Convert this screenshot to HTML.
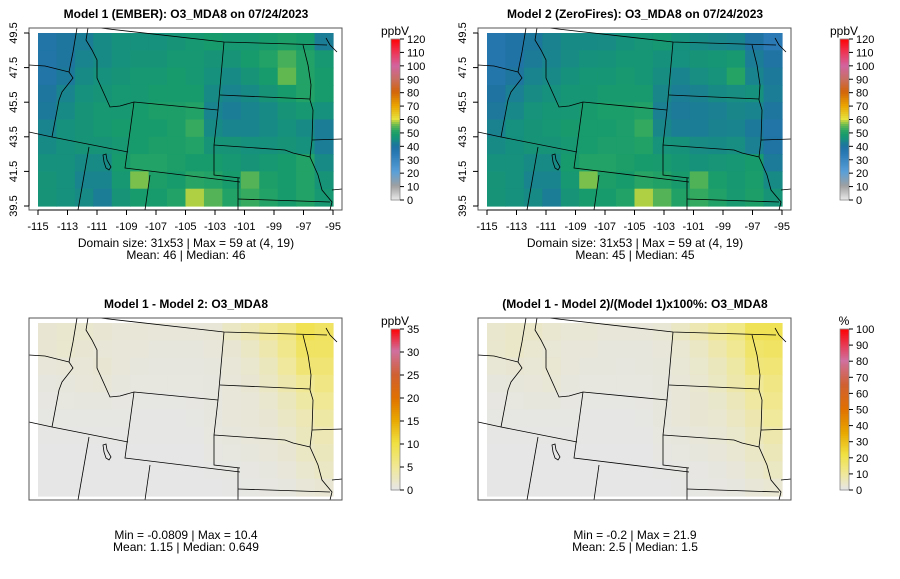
<!DOCTYPE html>
<html><head><meta charset="utf-8">
<style>
body{margin:0;background:#fff;}
svg{display:block;font-family:"Liberation Sans",sans-serif;}
</style></head>
<body>
<svg id="chart" width="900" height="579" viewBox="0 0 900 579"></svg>
<script>
// ---- data (coarse 10 x 16 grids, north->south rows, west->east cols) ----
const lonTicks = [-115,-113,-111,-109,-107,-105,-103,-101,-99,-97,-95];
const latTicks = [39.5,41.5,43.5,45.5,47.5,49.5];
const ppbTicks = [0,10,20,30,40,50,60,70,80,90,100,110,120];
const diffTicks = [0,5,10,15,20,25,30,35];
const pctTicks = [0,10,20,30,40,50,60,70,80,90,100];
const model1 = [
 [38,40,42,44,45,45,45,46,47,48,47,47,48,49,48,42],
 [38,40,43,44,45,46,46,47,47,46,46,48,50,53,50,47],
 [38,41,44,45,46,47,47,48,47,45,44,46,48,55,50,48],
 [40,43,45,46,47,47,48,48,48,44,43,44,46,48,50,48],
 [41,44,46,47,47,48,49,49,50,43,42,43,44,46,47,45],
 [43,45,46,47,48,48,48,49,52,44,43,43,44,45,44,42],
 [44,45,46,46,47,48,49,49,50,46,46,45,45,46,45,42],
 [45,45,44,44,48,50,50,49,48,48,47,46,47,48,50,44],
 [46,45,43,43,47,56,49,48,51,50,48,54,49,48,50,46],
 [46,45,44,42,46,48,48,50,58,54,50,52,50,48,50,47]
];
const diff = [
 [1.2,1.5,1.5,1.2,1,1,0.8,0.8,0.8,1,2,3,4.5,6,9,8],
 [1.2,1.5,1.2,1,0.8,0.8,0.6,0.6,0.6,0.8,1.2,2,3.5,5.5,8,8],
 [0.8,1,1,1.2,0.8,0.6,0.5,0.5,0.5,0.6,1,1.5,2.5,4.5,7,7],
 [0.5,0.6,0.8,1,0.6,0.4,0.4,0.4,0.4,0.5,0.8,1.2,2,3.5,5,6],
 [0.3,0.4,0.5,0.5,0.3,0.2,0.2,0.2,0.3,0.5,0.8,1,1.5,2.5,4,5],
 [0.2,0.2,0.2,0.2,0.2,0.1,0.1,0.1,0.2,0.5,0.8,1,1.2,2,3,4],
 [0.1,0.1,0.1,0.1,0.1,0.1,0.1,0.1,0.1,0.4,0.6,0.8,1,1.5,2.5,3],
 [0,0,0,0,0,0,0,0,0,0.3,0.4,0.6,0.8,1.2,2,2.5],
 [0,0,0,0,0,0,0,0,0,0.1,0.2,0.3,0.5,0.8,1.5,2],
 [0,0,0,0,0,0,0,0,0,0,0.1,0.2,0.3,0.5,1,1.2]
];
const titles = ["Model 1 (EMBER): O3_MDA8 on 07/24/2023","Model 2 (ZeroFires): O3_MDA8 on 07/24/2023","Model 1 - Model 2: O3_MDA8","(Model 1 - Model 2)/(Model 1)x100%: O3_MDA8"];
const stats1 = ["Domain size: 31x53 | Max = 59 at (4, 19)","Domain size: 31x53 | Max = 59 at (4, 19)","Min = -0.0809 | Max = 10.4","Min = -0.2 | Max = 21.9"];
const stats2 = ["Mean: 46 |  Median: 46","Mean: 45 |  Median: 45","Mean: 1.15 |  Median: 0.649","Mean: 2.5 |  Median: 1.5"];

const NS="http://www.w3.org/2000/svg";
const svg=document.getElementById('chart');
function el(tag,attrs,parent){const e=document.createElementNS(NS,tag);for(const k in attrs)e.setAttribute(k,attrs[k]);(parent||svg).appendChild(e);return e;}

const stops=[[0,[232,232,232]],[0.083,[160,160,160]],[0.17,[90,160,216]],[0.29,[40,120,180]],[0.33,[30,115,160]],[0.35,[28,125,150]],[0.375,[22,145,125]],[0.4,[24,155,108]],[0.425,[40,165,100]],[0.46,[100,185,80]],[0.5,[230,225,60]],[0.58,[235,165,0]],[0.67,[210,100,10]],[0.75,[200,110,100]],[0.83,[210,100,160]],[0.92,[240,50,80]],[1,[255,0,0]]];
const dstops=[[0,[230,230,230]],[0.14,[240,232,150]],[0.29,[240,224,64]],[0.43,[232,168,0]],[0.57,[224,112,0]],[0.71,[208,96,48]],[0.86,[208,112,160]],[1,[255,0,0]]];
const pstops=[[0,[230,230,230]],[0.1,[240,232,150]],[0.22,[240,224,64]],[0.35,[232,168,0]],[0.5,[224,112,0]],[0.65,[208,96,48]],[0.8,[208,112,160]],[1,[255,0,0]]];
function col(t,s){t=Math.max(0,Math.min(1,t));for(let i=1;i<s.length;i++){if(t<=s[i][0]){const a=s[i-1],b=s[i],f=(t-a[0])/(b[0]-a[0]);return 'rgb('+a[1].map((v,j)=>Math.round(v+(b[1][j]-v)*f)).join(',')+')';}}return 'rgb(255,0,0)';}

const fx0=38,fx1=333,fy0=33,fy1=206;
const xScale=lon=>fx0+(lon+115)*(fx1-fx0)/20;
const yScale=lat=>fy1-(lat-39.5)*(fy1-fy0)/10;
const borders=[
 [[77,28],[73,52],[69,72]],
 [[29,65],[45,66],[69,72]],
 [[69,72],[73,78],[62,92],[59,100],[52,137]],
 [[29,132],[52,137],[128,152]],
 [[89,147],[78,210]],
 [[88,28],[86,40],[92,50],[97,60],[97,78],[106,98],[110,107],[120,106],[134,102]],
 [[134,102],[218,110]],
 [[134,102],[125,168],[240,182]],
 [[150,175],[145,210]],
 [[100,28],[224,42],[327,45]],
 [[224,42],[218,110],[214,145],[214,175],[240,178]],
 [[238,178],[238,210]],
 [[220,95],[310,99]],
 [[326,38],[330,45],[337,52]],
 [[303,45],[308,65],[311,85],[310,100],[313,110],[312,140],[310,157]],
 [[214,145],[285,150],[293,153],[310,157],[318,175],[322,190],[332,202],[330,210]],
 [[238,199],[330,202]],
 [[312,140],[342,139]],
 [[332,190],[342,189]]
];
const lake=[[103,155],[106,154],[107,160],[111,167],[109,170],[106,168],[104,162]];

function panel(idx,ox,oy,kind){
 const g=el('g',{transform:`translate(${ox},${oy})`,});
 const t=el('text',{x:186,y:18,'text-anchor':'middle','font-size':12,'font-weight':'bold'},g);t.textContent=titles[idx];
 
 const rows=model1.length,cols=model1[0].length,cw=(fx1-fx0)/cols,ch=(fy1-fy0)/rows;
 for(let r=0;r<rows;r++)for(let c=0;c<cols;c++){
  let v,fill;
  if(kind==0){v=model1[r][c];fill=col(v/120,stops);}
  else if(kind==1){v=model1[r][c]-diff[r][c];fill=col(v/120,stops);}
  else if(kind==2){v=diff[r][c];fill=col(v/35,dstops);}
  else {v=diff[r][c]/model1[r][c]*100;fill=col(v/100,pstops);}
  const cell=el('rect',{x:(fx0+c*cw).toFixed(2),y:(fy0+r*ch).toFixed(2),width:(cw+0.6).toFixed(2),height:(ch+0.6).toFixed(2),fill:fill},g);
  
 }
 borders.forEach(b=>{const p=el('polyline',{points:b.map(q=>q.join(',')).join(' '),fill:'none',stroke:'#000','stroke-width':0.8},g);});
 const lk=el('polygon',{points:lake.map(q=>q.join(',')).join(' '),fill:'none',stroke:'#000','stroke-width':0.8},g);
 
 const box=el('rect',{x:29,y:28,width:313,height:182,fill:'none',stroke:'#555','stroke-width':1},g);
 
 let sy=247,sy2=259;
 if(kind<2){
  el('line',{x1:xScale(-115),x2:xScale(-95),y1:210,y2:210,stroke:'#000'},g);
  lonTicks.forEach(v=>{const x=xScale(v);el('line',{x1:x,x2:x,y1:210,y2:215,stroke:'#000'},g);
   const tt=el('text',{x:x,y:230,'text-anchor':'middle','font-size':11},g);tt.textContent=v;});
  el('line',{x1:29,x2:29,y1:yScale(39.5),y2:yScale(49.5),stroke:'#000'},g);
  latTicks.forEach(v=>{const y=yScale(v);el('line',{x1:24,x2:29,y1:y,y2:y,stroke:'#000'},g);
   const tt=el('text',{x:17,y:y,'text-anchor':'middle','font-size':11,transform:`rotate(-90 17 ${y})`},g);tt.textContent=v;});
 } else {sy=249;sy2=261;}
 const s1=el('text',{x:186,y:sy,'text-anchor':'middle','font-size':12},g);s1.textContent=stats1[idx];
 const s2=el('text',{x:186,y:sy2,'text-anchor':'middle','font-size':12},g);s2.textContent=stats2[idx];
 const cb=el('g',{},g);
 const by0=39,by1=200,bx=391,bw=9;
 let ticks,max,st,unit;
 if(kind<2){ticks=ppbTicks;max=120;st=stops;unit='ppbV';}
 else if(kind==2){ticks=diffTicks;max=35;st=dstops;unit='ppbV';}
 else {ticks=pctTicks;max=100;st=pstops;unit='%';}
 for(let i=0;i<80;i++){const t0=i/80;el('rect',{x:bx,y:by1-(i+1)*(by1-by0)/80,width:bw,height:(by1-by0)/80+0.5,fill:col(t0,st)},cb);}
 el('rect',{x:bx,y:by0,width:bw,height:by1-by0,fill:'none',stroke:'#888','stroke-width':0.8},cb);
 ticks.forEach(v=>{const y=by1-v/max*(by1-by0);el('line',{x1:bx+bw,x2:bx+bw+4,y1:y,y2:y,stroke:'#000'},cb);
  const tt=el('text',{x:bx+bw+7,y:y+4,'font-size':11},cb);tt.textContent=v;});
 const u=el('text',{x:bx+4,y:35,'text-anchor':'middle','font-size':12},cb);u.textContent=unit;
 
}
panel(0,0,0,0);
panel(1,449,0,1);
panel(2,0,290,2);
panel(3,449,290,3);
</script>
</body></html>
